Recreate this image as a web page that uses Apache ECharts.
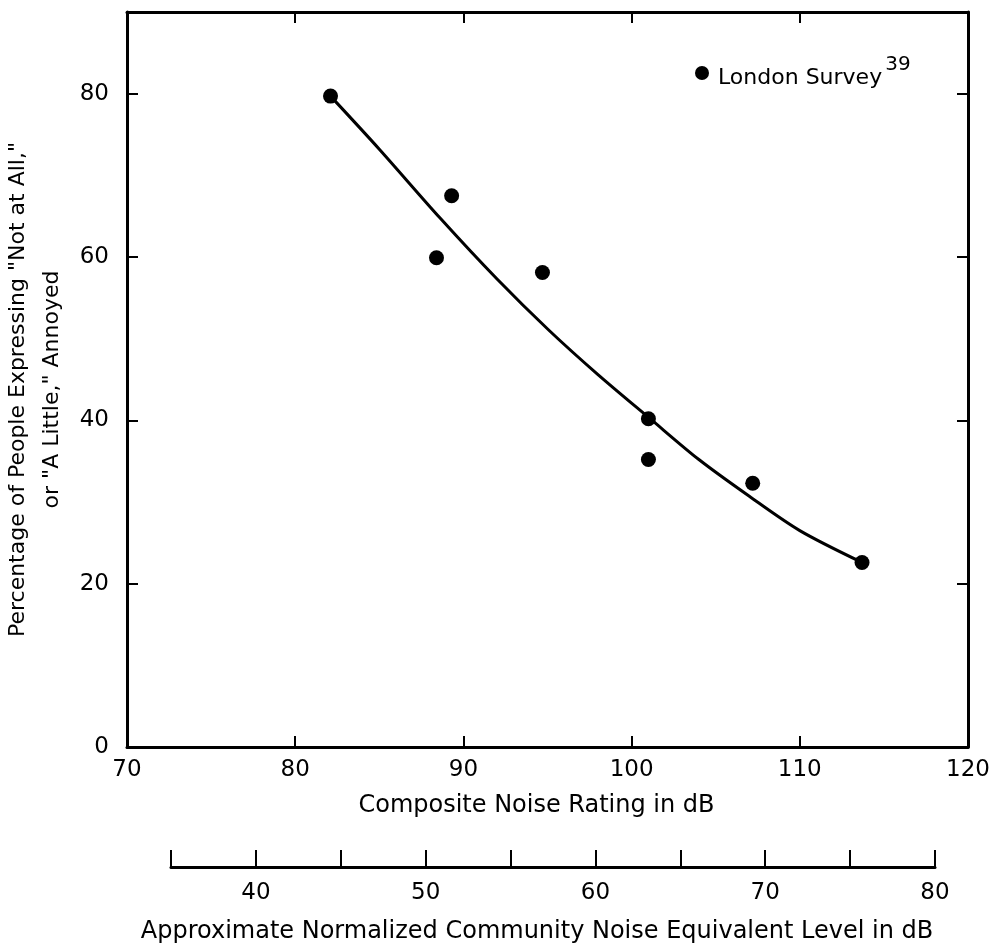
<!DOCTYPE html>
<html>
<head>
<meta charset="utf-8">
<script src="https://cdn.jsdelivr.net/npm/echarts@6/dist/echarts.min.js"></script>
<style>
  html, body { margin: 0; padding: 0; background: #fff; }
  #chart { width: 997px; height: 947px; }
</style>
</head>
<body>
<div id="chart"></div>
<script>
// London survey points (Composite Noise Rating, % not at all / a little annoyed)
var surveyX = [82.1, 88.4, 89.3, 94.7, 101.0, 101.0, 107.2, 113.7]
var surveyY = [79.7, 59.9, 67.5, 58.1, 40.2, 35.2, 32.3, 22.6]

// fitted curve
var curveX = [82.1, 85, 88.6, 92, 95.1, 98, 101.1, 104, 107, 110, 113.7]
var curveY = [79.7, 73.2, 64.8, 57.3, 51.0, 45.6, 40.2, 35.2, 30.7, 26.5, 22.6]

var legendName = 'London Survey'
var legendRef = '39'
var xName = 'Composite Noise Rating in dB'
var x2Name = 'Approximate Normalized Community Noise Equivalent Level in dB'
var yName = 'Percentage of People Expressing "Not at All,"\nor "A Little," Annoyed'

var font = 'DejaVu Sans'
var ink = '#000'

function pairs(xs, ys) {
  return xs.map(function (x, i) { return [x, ys[i]] })
}

var chart = echarts.init(document.getElementById('chart'))

var frameLine = { show: true, onZero: false, lineStyle: { color: ink, width: 3 } }
var innerTick = { show: true, inside: true, length: 11, lineStyle: { color: ink, width: 2 } }

var option = {
  backgroundColor: '#fff',
  animation: false,
  textStyle: { fontFamily: font, color: ink },
  legend: {
    left: 690,
    top: 50,
    itemWidth: 14,
    itemHeight: 14,
    data: [{ name: legendName, icon: 'circle' }],
    formatter: function (n) { return '{t|' + n + '}{s|' + legendRef + '}' },
    textStyle: {
      fontFamily: font,
      color: ink,
      rich: {
        t: { fontSize: 22, fontFamily: font, color: ink, padding: [10, 0, 0, 4] },
        s: { fontSize: 20, fontFamily: font, color: ink, verticalAlign: 'top', padding: [0, 0, 16, 3] }
      }
    }
  },
  grid: [
    { left: 127, top: 12, right: 29, bottom: 200, outerBoundsMode: 'none' },
    { left: 171, top: 866, right: 62, height: 1, outerBoundsMode: 'none' }
  ],
  xAxis: [
    {
      gridIndex: 0, type: 'value', min: 70, max: 120, interval: 10,
      position: 'bottom',
      axisLine: frameLine, axisTick: innerTick, splitLine: { show: false },
      axisLabel: { color: ink, fontSize: 23, fontFamily: font, margin: 12 },
      name: xName, nameLocation: 'middle', nameGap: 47,
      nameTextStyle: { color: ink, fontSize: 24, fontFamily: font, padding: [0, 22, 0, 0] }
    },
    {
      gridIndex: 0, type: 'value', min: 70, max: 120, interval: 10,
      position: 'top',
      axisLine: frameLine, axisTick: innerTick, splitLine: { show: false },
      axisLabel: { show: false }
    },
    {
      gridIndex: 1, type: 'value', min: 35, max: 80, interval: 5,
      position: 'bottom',
      axisLine: frameLine,
      axisTick: { show: true, inside: true, length: 17, lineStyle: { color: ink, width: 2 } },
      splitLine: { show: false },
      axisLabel: {
        color: ink, fontSize: 23, fontFamily: font, margin: 15,
        formatter: function (v) { return v % 10 === 0 ? String(v) : '' }
      },
      name: x2Name, nameLocation: 'middle', nameGap: 53,
      nameTextStyle: { color: ink, fontSize: 24, fontFamily: font, padding: [0, 32, 0, 0] }
    }
  ],
  yAxis: [
    {
      gridIndex: 0, type: 'value', min: 0, max: 90, interval: 20,
      position: 'left',
      axisLine: frameLine, axisTick: innerTick, splitLine: { show: false },
      axisLabel: {
        color: ink, fontSize: 23, fontFamily: font, margin: 18,
        formatter: function (v) { return v > 80 ? '' : String(v) }
      },
      name: yName, nameLocation: 'middle', nameRotate: 90, nameGap: 57,
      nameTextStyle: { color: ink, fontSize: 22, fontFamily: font, lineHeight: 34, padding: [0, 20, 0, 0] }
    },
    {
      gridIndex: 0, type: 'value', min: 0, max: 90, interval: 20,
      position: 'right',
      axisLine: frameLine, axisTick: innerTick, splitLine: { show: false },
      axisLabel: { show: false }
    },
    {
      gridIndex: 1, type: 'value', min: 0, max: 1, show: false
    }
  ],
  series: [
    {
      name: 'curve',
      type: 'line',
      xAxisIndex: 0, yAxisIndex: 0,
      smooth: 0.3,
      showSymbol: false,
      lineStyle: { color: ink, width: 3 },
      data: pairs(curveX, curveY),
      z: 2
    },
    {
      name: legendName,
      type: 'scatter',
      xAxisIndex: 0, yAxisIndex: 0,
      symbol: 'circle',
      symbolSize: 15,
      itemStyle: { color: ink, opacity: 1 },
      data: pairs(surveyX, surveyY),
      z: 3
    }
  ]
}

chart.setOption(option)
</script>
</body>
</html>
